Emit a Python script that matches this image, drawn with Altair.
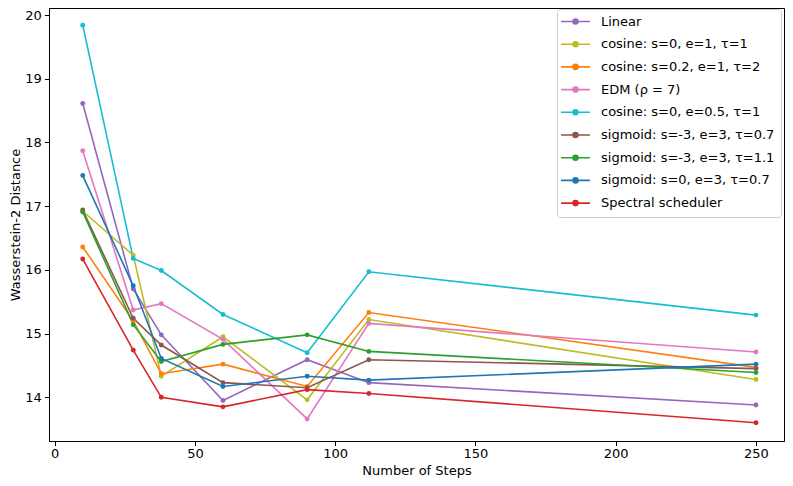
import altair as alt
import pandas as pd

steps = [10, 28, 38, 60, 90, 112, 250]

series_names = [
    "Linear",
    "cosine: s=0, e=1, τ=1",
    "cosine: s=0.2, e=1, τ=2",
    "EDM (ρ = 7)",
    "cosine: s=0, e=0.5, τ=1",
    "sigmoid: s=-3, e=3, τ=0.7",
    "sigmoid: s=-3, e=3, τ=1.1",
    "sigmoid: s=0, e=3, τ=0.7",
    "Spectral scheduler",
]

linear = [18.61, 15.70, 14.98, 13.95, 14.59, 14.23, 13.88]
cos_0_1_1 = [16.92, 16.23, 14.33, 14.95, 13.96, 15.22, 14.28]
cos_02_1_2 = [16.36, 15.20, 14.37, 14.52, 14.17, 15.33, 14.47]
edm = [17.87, 15.37, 15.47, 14.91, 13.66, 15.16, 14.71]
cos_0_05_1 = [19.84, 16.18, 15.99, 15.30, 14.70, 15.97, 15.29]
sig_m3_3_07 = [16.94, 15.24, 14.82, 14.23, 14.15, 14.59, 14.45]
sig_m3_3_11 = [16.91, 15.14, 14.56, 14.83, 14.98, 14.72, 14.39]
sig_0_3_07 = [17.48, 15.75, 14.61, 14.17, 14.33, 14.27, 14.52]
spectral = [16.17, 14.74, 14.00, 13.85, 14.12, 14.06, 13.60]

colors = ["#9467bd", "#bcbd22", "#ff7f0e", "#e377c2", "#17becf",
          "#8c564b", "#2ca02c", "#1f77b4", "#d62728"]

all_values = [linear, cos_0_1_1, cos_02_1_2, edm, cos_0_05_1,
              sig_m3_3_07, sig_m3_3_11, sig_0_3_07, spectral]

rows = []
for i, (name, vals) in enumerate(zip(series_names, all_values)):
    for s, v in zip(steps, vals):
        rows.append({"series": name, "order": i, "steps": s, "w2": v})
df = pd.DataFrame(rows)

FONT = "DejaVu Sans"

legend_path = ("M-3,0L3,0M0.52,0A0.52,0.52,0,1,1,-0.52,0"
               "A0.52,0.52,0,1,1,0.52,0Z")

color = alt.Color(
    "series:N",
    scale=alt.Scale(domain=series_names, range=colors),
    sort=series_names,
    legend=alt.Legend(
        title=None,
        orient="none",
        legendX=508,
        legendY=1,
        fillColor="white",
        strokeColor="#cccccc",
        cornerRadius=3,
        padding=6,
        labelFont=FONT,
        labelFontSize=13,
        labelColor="#000000",
        labelLimit=400,
        labelOffset=19,
        rowPadding=8.7,
        symbolType=legend_path,
        symbolSize=93,
        symbolOffset=6,
        symbolStrokeWidth=1.6,
    ),
)

x = alt.X(
    "steps:Q",
    scale=alt.Scale(domain=[-2.03, 260.0], nice=False, zero=False),
    axis=alt.Axis(values=[0, 50, 100, 150, 200, 250], title="Number of Steps"),
)
y = alt.Y(
    "w2:Q",
    scale=alt.Scale(domain=[13.314, 20.11], nice=False, zero=False),
    axis=alt.Axis(values=[14, 15, 16, 17, 18, 19, 20], title="Wasserstein-2 Distance"),
)

lines = alt.Chart(df).mark_line(strokeWidth=1.6).encode(
    x=x, y=y, color=color, order="order:Q", detail="series:N"
)
points = alt.Chart(df).mark_point(filled=True, size=24, opacity=1).encode(
    x=x, y=y, color=color
)

chart = (
    alt.layer(lines, points)
    .properties(
        width=735,
        height=433,
        autosize=alt.AutoSizeParams(type="none"),
        padding={"left": 41, "top": 0, "right": 1, "bottom": 37},
    )
    .configure_view(stroke="#000000", strokeWidth=1)
    .configure_axis(
        grid=False,
        domainColor="#000000",
        domainWidth=1,
        tickColor="#000000",
        tickWidth=1,
        tickSize=4.6,
        labelFont=FONT,
        labelFontSize=13,
        labelColor="#000000",
        titleFont=FONT,
        titleFontSize=13,
        titleFontWeight="normal",
        titleColor="#000000",
    )
    .configure_axisX(labelPadding=2, titlePadding=4)
    .configure_axisY(labelPadding=3, titlePadding=2)
)

chart.save("out.html", embed_options={"renderer": "svg", "actions": False})
